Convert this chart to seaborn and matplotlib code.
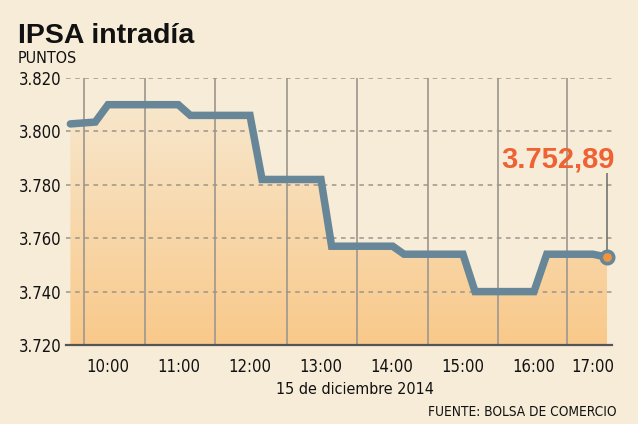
import numpy as np
import matplotlib
matplotlib.use("Agg")
import matplotlib.pyplot as plt
import seaborn as sns
from matplotlib.colors import LinearSegmentedColormap

# ---- data ----
hours = [9.47, 9.82, 10.0, 10.99, 11.16, 12.0, 12.17, 13.0, 13.15, 14.01,
         14.17, 15.0, 15.17, 16.0, 16.18, 16.83, 17.03]
puntos = [3802.8, 3803.5, 3810, 3810, 3806, 3806, 3782, 3782, 3757, 3757,
          3754, 3754, 3740, 3740, 3754, 3754, 3752.89]
tick_pos = [10, 11, 12, 13, 14, 15, 16, 16.83]
tick_labels = ["10:00", "11:00", "12:00", "13:00", "14:00", "15:00", "16:00", "17:00"]
y_ticks = [3720, 3740, 3760, 3780, 3800, 3820]
grid_x = [9.66, 10.52, 11.51, 12.52, 13.51, 14.51, 15.49, 16.46]

title = "IPSA intradía"
unit = "PUNTOS"
date_label = "15 de diciembre 2014"
source = "FUENTE: BOLSA DE COMERCIO"

# ---- style ----
sns.set_theme(style="white")
plt.rcParams["font.family"] = ["DejaVu Sans"]
plt.rcParams["font.stretch"] = "condensed"
bold_font = ["Liberation Sans", "DejaVu Sans"]

bg = "#F7ECD8"
line_col = "#678799"
grid_col = "#A39C91"
orange = "#EE6233"
marker_col = "#F2933D"

fig = plt.figure(figsize=(6.38, 4.24), dpi=100, facecolor=bg)
ax = fig.add_axes([66 / 638, 1 - 345 / 424, (612 - 66) / 638, (345 - 78) / 424])
ax.set_facecolor(bg)

# gradient fill under the line
poly = ax.fill_between(hours, puntos, y_ticks[0], color="none", lw=0)
cmap = LinearSegmentedColormap.from_list("g", ["#F9C98A", "#F7EAD3"])
grad = np.linspace(0, 1, 256).reshape(-1, 1)
img = ax.imshow(grad, extent=[hours[0], hours[-1], y_ticks[0], y_ticks[-1]],
                origin="lower", cmap=cmap, aspect="auto", zorder=1,
                interpolation="bilinear")
img.set_clip_path(poly.get_paths()[0], ax.transData)

# grids
for gx in grid_x:
    ax.axvline(gx, color=grid_col, lw=1.3, zorder=2)
for gy in y_ticks[1:]:
    ax.axhline(gy, color="#9C958A", lw=1.1, ls=(0, (3, 3)), zorder=2)

# line
sns.lineplot(x=hours, y=puntos, ax=ax, color=line_col, lw=5.4, sort=False,
             estimator=None, zorder=4)
ax.lines[-1].set_solid_joinstyle("miter")

# last value marker and label
ax.vlines(hours[-1], puntos[-1], puntos[-1] + 31.5, color="#6A6A6A", lw=1.1, zorder=3)
ax.scatter([hours[-1]], [puntos[-1]], s=80, facecolor=marker_col, edgecolor=line_col,
           linewidth=2.6, zorder=5, clip_on=False)
last_txt = f"{puntos[-1]:,.2f}".replace(",", "X").replace(".", ",").replace("X", ".")
ax.text(16.34, 3786.3, last_txt, ha="center", va="baseline", color=orange,
        fontsize=21, fontweight="bold", family=bold_font, stretch="normal", zorder=6)

ax.set_xlim(9.4085, 17.099)
ax.set_ylim(y_ticks[0], y_ticks[-1])
ax.set_xticks(tick_pos, tick_labels)
ax.set_yticks(y_ticks, [f"{v/1000:.3f}" for v in y_ticks])
ax.tick_params(axis="x", length=0, pad=9, labelsize=12, colors="#111111")
ax.tick_params(axis="y", length=0, pad=3, labelsize=12, colors="#111111")
for s in ["left", "top", "right"]:
    ax.spines[s].set_visible(False)
ax.spines["bottom"].set_color("#555555")
ax.spines["bottom"].set_linewidth(1.6)
ax.set_xlabel("")
ax.set_ylabel("")

fig.text(18 / 638, 1 - 43 / 424, title, fontsize=20.5, fontweight="bold",
         family=bold_font, stretch="normal", color="#111111", va="baseline", ha="left")
fig.text(18 / 638, 1 - 63 / 424, unit, fontsize=11.5, color="#111111",
         va="baseline", ha="left")
fig.text(355 / 638, 1 - 390 / 424, date_label, fontsize=11.5, color="#111111",
         va="center", ha="center")
fig.text(616 / 638, 1 - 412 / 424, source, fontsize=9.8, color="#111111",
         va="center", ha="right")

fig.savefig("out.png", dpi=100, facecolor=bg)
